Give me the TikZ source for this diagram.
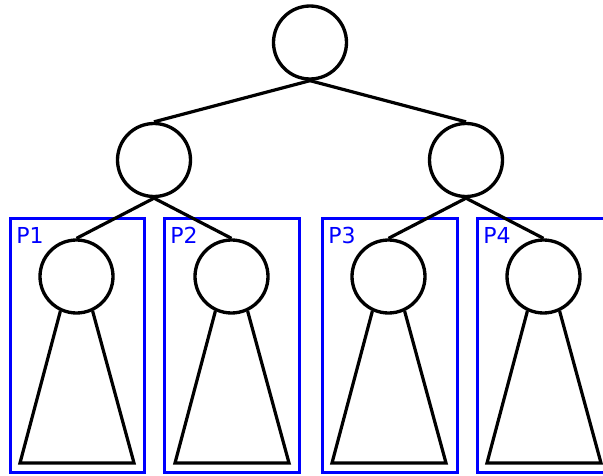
\documentclass[tikz,border=0pt]{standalone}
\usepackage{fontspec}
\setmainfont{DejaVu Sans}

\begin{document}
\begin{tikzpicture}[x=0.75pt,y=-0.75pt,
  vertex/.style={draw,circle,line width=2.5pt,minimum size=54.75pt,inner sep=0pt},
  edge/.style={line width=2.4pt},
  part/.style={draw=blue,line width=2.25pt},
  plabel/.style={text=blue,font=\fontsize{16.5}{18}\selectfont,anchor=base west,inner sep=0pt}]
\clip (0,0) rectangle (603,475);
% processor blocks
\draw[part] (10,218) rectangle (144,472);
\draw[part] (164,218) rectangle (299,472);
\draw[part] (322,218) rectangle (457,472);
\draw[part] (477,218) rectangle (612,472);
\node[plabel] (p1) at (16,243) {P1};
\node[plabel] (p2) at (170,243) {P2};
\node[plabel] (p3) at (328,243) {P3};
\node[plabel] (p4) at (483,243) {P4};
% top of the tree
\node[vertex] (root) at (310,42.5) {};
\node[vertex] (a) at (154,160) {};
\node[vertex] (b) at (466,160) {};
\node[vertex] (a1) at (76.5,276.5) {};
\node[vertex] (a2) at (231.5,276.5) {};
\node[vertex] (b1) at (388.5,276.5) {};
\node[vertex] (b2) at (543.5,276.5) {};
\draw[edge] (root.south) -- (a.north);
\draw[edge] (root.south) -- (b.north);
\draw[edge] (a.south) -- (a1.north);
\draw[edge] (a.south) -- (a2.north);
\draw[edge] (b.south) -- (b1.north);
\draw[edge] (b.south) -- (b2.north);
% subtrees
\coordinate (a1l) at (20,463);  \coordinate (a1r) at (134,463);
\coordinate (a2l) at (175,463); \coordinate (a2r) at (289,463);
\coordinate (b1l) at (332,463); \coordinate (b1r) at (446,463);
\coordinate (b2l) at (487,463); \coordinate (b2r) at (601,463);
\draw[edge] (a1.245) -- (a1l) -- (a1r) -- (a1.295);
\draw[edge] (a2.245) -- (a2l) -- (a2r) -- (a2.295);
\draw[edge] (b1.245) -- (b1l) -- (b1r) -- (b1.295);
\draw[edge] (b2.245) -- (b2l) -- (b2r) -- (b2.295);
\end{tikzpicture}
\end{document}
